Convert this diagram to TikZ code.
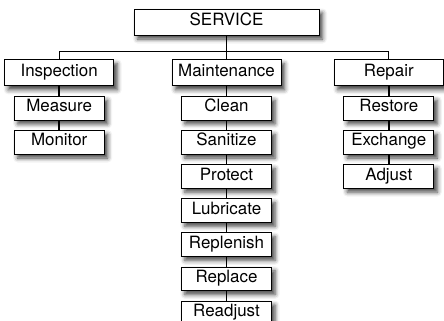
\documentclass[tikz,border=0pt]{standalone}
\usepackage{fontspec}
\setmainfont{TeX Gyre Heros}
\usepackage{tikz}
\usetikzlibrary{positioning, shadows.blur}

\begin{document}
\begin{tikzpicture}[
        x=1bp, y=1bp,
        node distance=9.8bp and 55bp,
        box/.style={rectangle, draw, line width=0.8bp, fill=white, inner sep=0pt,
                    font=\fontsize{17}{19}\selectfont, text height=11.5bp, text depth=4.2bp,
                    blur shadow={shadow xshift=3.5bp, shadow yshift=-4bp,
                                 shadow blur radius=4.5bp, shadow opacity=75}},
        root/.style={box, minimum width=185bp, minimum height=26bp},
        group/.style={box, minimum width=109bp, minimum height=26bp},
        task/.style={box, minimum width=90bp, minimum height=23.5bp},
        link/.style={line width=1.5bp},
        busbar/.style={line width=0.9bp}
      ]

      % fixed page frame
      \useasboundingbox (-226.5,22) rectangle (217.5,-298);

      % top of the tree
      \node (service) [root] {SERVICE};
      \coordinate [below=16bp of service] (bar);

      % the three branches
      \node (maintenance) [group, below=24bp of service] {Maintenance};
      \node (inspection) [group, left=57.5bp of maintenance] {Inspection};
      \node (repair) [group, right=52.5bp of maintenance] {Repair};

      % Inspection tasks
      \node (measure) [task, below=of inspection] {Measure};
      \node (monitor) [task, below=of measure] {Monitor};

      % Maintenance tasks
      \node (clean) [task, below=of maintenance] {Clean};
      \node (sanitize) [task, below=of clean] {Sanitize};
      \node (protect) [task, below=of sanitize] {Protect};
      \node (lubricate) [task, below=of protect] {Lubricate};
      \node (replenish) [task, below=of lubricate] {Replenish};
      \node (replace) [task, below=of replenish] {Replace};
      \node (readjust) [task, below=of replace] {Readjust};

      % Repair tasks
      \node (restore) [task, below=of repair] {Restore};
      \node (exchange) [task, below=of restore] {Exchange};
      \node (adjust) [task, below=of exchange] {Adjust};

      % tree lines
      \draw [link] (service) -- (bar);
      \draw [busbar] (inspection.north) |- (bar) -| (repair.north);
      \draw [link] (bar) -- (maintenance);

      \draw [link] (inspection) -- (measure);
      \draw [link] (measure) -- (monitor);

      \draw [link] (maintenance) -- (clean);
      \draw [link] (clean) -- (sanitize);
      \draw [link] (sanitize) -- (protect);
      \draw [link] (protect) -- (lubricate);
      \draw [link] (lubricate) -- (replenish);
      \draw [link] (replenish) -- (replace);
      \draw [link] (replace) -- (readjust);

      \draw [link] (repair) -- (restore);
      \draw [link] (restore) -- (exchange);
      \draw [link] (exchange) -- (adjust);

    \end{tikzpicture}
\end{document}
